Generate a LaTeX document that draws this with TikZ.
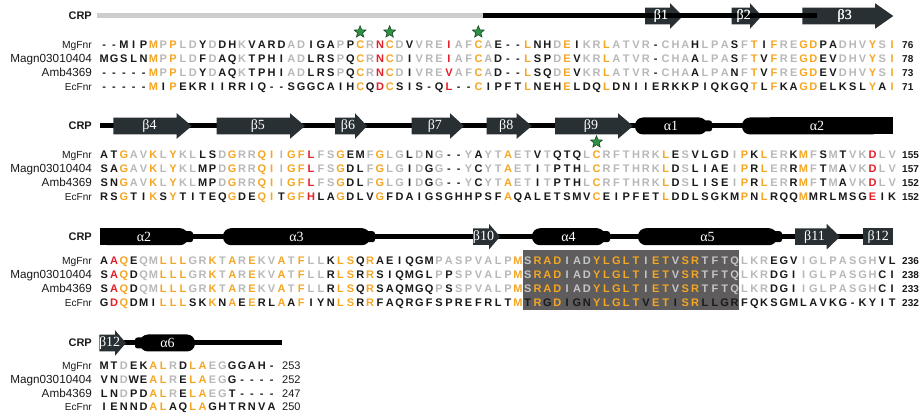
\documentclass[tikz,border=0pt]{standalone}
\usepackage{fontspec}
\setmainfont{Liberation Sans}
\newfontfamily\serifgr{Liberation Serif}
\usetikzlibrary{shapes.geometric}
\definecolor{alno}{HTML}{F5A623}
\definecolor{alng}{HTML}{B8B8B8}
\definecolor{alnk}{HTML}{1A1A1A}
\definecolor{alnr}{HTML}{E2202A}
\definecolor{alnb}{HTML}{C6C6C6}
\definecolor{boxgr}{HTML}{5E5C5C}
\definecolor{strandc}{HTML}{283033}
\definecolor{stargreen}{HTML}{2C9444}
\definecolor{stardark}{HTML}{1A4526}
\definecolor{crpgray}{HTML}{CDCDCD}

\ExplSyntaxOn
\str_new:N \g_aln_a_str
\str_new:N \g_aln_b_str
\str_new:N \g_aln_c_str
\str_new:N \g_aln_d_str
\prop_new:N \g_aln_ovr_prop
\tl_new:N \l_aln_code_tl
\tl_new:N \l_aln_a_tl
\tl_new:N \l_aln_b_tl
\tl_new:N \l_aln_c_tl
\tl_new:N \l_aln_d_tl
\tl_new:N \l_aln_ch_tl
\int_new:N \g_aln_boxlo_int
\int_new:N \g_aln_boxhi_int
\dim_new:N \g_aln_cw_dim
\dim_gset:Nn \g_aln_cw_dim {9.85pt}
\cs_new_protected:Npn \aln_put:nn #1#2 { \prop_gput:Nnn \g_aln_ovr_prop {#1} {#2} }
\NewDocumentCommand \AlnSet { m m m m m }
 {
  \str_gset:Nn \g_aln_a_str {#1}
  \str_gset:Nn \g_aln_b_str {#2}
  \str_gset:Nn \g_aln_c_str {#3}
  \str_gset:Nn \g_aln_d_str {#4}
  \prop_gclear:N \g_aln_ovr_prop
  \keyval_parse:NNn \use_none:n \aln_put:nn {#5}
 }
\NewDocumentCommand \AlnBox { m m }
 {
  \int_gset:Nn \g_aln_boxlo_int {#1}
  \int_gset:Nn \g_aln_boxhi_int {#2}
 }
\NewDocumentCommand \AlnRow { m }
 {
  \int_step_inline:nn { \str_count:N \g_aln_a_str } { \aln_cell:nn {#1} {##1} }
 }
\cs_new_protected:Npn \aln_cell:nn #1#2
 {
  \tl_set:Nx \l_aln_a_tl { \str_item:Nn \g_aln_a_str {#2} }
  \tl_set:Nx \l_aln_b_tl { \str_item:Nn \g_aln_b_str {#2} }
  \tl_set:Nx \l_aln_c_tl { \str_item:Nn \g_aln_c_str {#2} }
  \tl_set:Nx \l_aln_d_tl { \str_item:Nn \g_aln_d_str {#2} }
  \int_case:nn {#1}
   {
    {1} { \tl_set_eq:NN \l_aln_ch_tl \l_aln_a_tl }
    {2} { \tl_set_eq:NN \l_aln_ch_tl \l_aln_b_tl }
    {3} { \tl_set_eq:NN \l_aln_ch_tl \l_aln_c_tl }
    {4} { \tl_set_eq:NN \l_aln_ch_tl \l_aln_d_tl }
   }
  \prop_get:NnNF \g_aln_ovr_prop { r#1c#2 } \l_aln_code_tl
   {
    \prop_get:NnNTF \g_aln_ovr_prop { c#2 } \l_aln_code_tl
     {
      \str_if_eq:eeT { \l_aln_code_tl } { g }
       { \int_compare:nNnT {#1} = {4} { \tl_set:Nn \l_aln_code_tl { k } } }
      \str_if_eq:eeT { \l_aln_code_tl } { O }
       {
        \int_compare:nNnTF {#1} = {4}
         { \tl_set:Nn \l_aln_code_tl { k } }
         { \tl_set:Nn \l_aln_code_tl { o } }
       }
     }
     {
      \bool_if:nTF
       {
        \str_if_eq_p:ee { \l_aln_a_tl } { \l_aln_b_tl } &&
        \str_if_eq_p:ee { \l_aln_a_tl } { \l_aln_c_tl } &&
        ! \str_if_eq_p:ee { \l_aln_a_tl } { - }
       }
       {
        \str_if_eq:eeTF { \l_aln_a_tl } { \l_aln_d_tl }
         { \tl_set:Nn \l_aln_code_tl { o } }
         {
          \int_compare:nNnTF {#1} = {4}
           { \tl_set:Nn \l_aln_code_tl { k } }
           { \tl_set:Nn \l_aln_code_tl { g } }
         }
       }
       { \tl_set:Nn \l_aln_code_tl { k } }
     }
   }
  \bool_if:nT
   {
    \str_if_eq_p:ee { \l_aln_code_tl } { g } &&
    \int_compare_p:nNn {#2} > { \g_aln_boxlo_int - 1 } &&
    \int_compare_p:nNn {#2} < { \g_aln_boxhi_int + 1 }
   }
   { \tl_set:Nn \l_aln_code_tl { b } }
  \makebox [ \g_aln_cw_dim ] { \exp_args:Nx \color { aln \l_aln_code_tl } \l_aln_ch_tl }
 }
\ExplSyntaxOff

\tikzset{
  seqrow/.style={inner sep=0pt, font=\bfseries\fontsize{11}{12}\selectfont},
  lbl/.style={inner sep=0pt, text=alnk},
  numtxt/.style={inner sep=0pt, text=alnk, font=\bfseries\fontsize{10}{10}\selectfont},
  crp/.style={inner sep=0pt, text=alnk, font=\bfseries\fontsize{11}{11}\selectfont},
  sslab/.style={inner sep=0pt, text=white, font=\serifgr\fontsize{14}{14}\selectfont},
  hlab/.style={inner sep=0pt, text=white, font=\serifgr\fontsize{14}{14}\selectfont},
  gstar/.style={star, star points=5, star point ratio=2.3, minimum size=12.5pt, inner sep=0pt,
    fill=stargreen, draw=stardark, line width=0.6pt},
  crpline/.style={line width=5pt, black},
}

\newcommand\alnline[7]{%
  \node[lbl, font=\fontsize{#5}{#5}\selectfont, anchor=base east] (#1-l) at (92,{#2+3.8}) {#4};
  \node[seqrow, anchor=base west] (#1) at (99.075,{#2+4}) {\AlnRow{#3}};
  \node[numtxt, anchor=base west] (#1-n) at (#6,{#2+3.8}) {#7};
}
\newcommand\strand[6]{%
  \fill[strandc] (#2,{#5-8.3}) -- (#3,{#5-8.3}) -- (#3,{#5-12.8}) -- (#4,#5) -- (#3,{#5+12.8}) -- (#3,{#5+8.3}) -- (#2,{#5+8.3}) -- cycle;
  \node[sslab] (#1) at ({(#2+#4)/2-3},#5) {#6};
}
\newcommand\helix[6]{%
  \fill[black, rounded corners=8pt] (#2,{#4-8.5}) rectangle (#3,{#4+8.5});
  \ifcase#6\or
    \fill[black, rounded corners=2.5pt] ({#3-8},{#4-5.5}) rectangle ({#3+5},{#4+5.5});
  \or
    \fill[black, rounded corners=2.5pt] ({#2-5},{#4-5.5}) rectangle ({#2+8},{#4+5.5});
  \fi
  \node[hlab] (#1) at ({(#2+#3)/2},#4) {#5};
}

\begin{document}
\begin{tikzpicture}[x=1pt, y=-1pt]
\fill[white] (0,0) rectangle (922,414);
\useasboundingbox (0,0) rectangle (922,414);

% ---------------- Block 1 ----------------
\node[crp, anchor=east] (crp1) at (92,16) {CRP};
\draw[line width=5pt, crpgray] (97,16) -- (483,16);
\strand{b1s1}{645}{670}{683}{16}{β1}
\strand{b1s2}{731.7}{750}{761.7}{16}{β2}
\strand{b1s3}{802.3}{875}{893.3}{16}{β3}
\draw[crpline] (483,16) -- (817,16);
\node[sslab] at (b1s1) {β1};
\node[sslab] at (b1s2) {β2};
\node[sslab] at (b1s3) {β3};
\node[gstar] (st1) at (360.1,32) {};
\node[gstar] (st2) at (389.65,32) {};
\node[gstar] (st3) at (478.3,32) {};
\AlnBox{0}{0}
\AlnSet{--MIPMPPLDYDDHKVARDADIGAPPCRNCDVVREIAFCAE--LNHDEIKRLATVR-CHAHLPASFTIFREGDPADHVYSI}
       {MGSLNMPPLDFDAQKTPHIADLRSPQCRNCDIVREIAFCAD--LSPDEVKRLATVR-CHAALPASFTVFREGDEVDHVYSI}
       {-----MPPLDYDAQKTPHIADLRSPQCRNCDIVREVAFCAD--LSQDEVKRLATVR-CHAALPANFTVFREGDEVDHVYSI}
       {-----MIPEKRIIRRIQ--SGGCAIHCQDCSIS-QL--CIPFTLNEHELDQLDNIIERKKPIQKGQTLFKAGDELKSLYAI}
       {c29=r, c36=r}
\alnline{b1r1}{45}{1}{MgFnr}{10.3}{902}{76}
\alnline{b1r2}{59}{2}{Magn03010404}{11.7}{902}{78}
\alnline{b1r3}{73}{3}{Amb4369}{11.7}{902}{73}
\alnline{b1r4}{87}{4}{EcFnr}{10.1}{902}{71}

% ---------------- Block 2 ----------------
\node[crp, anchor=east] (crp2) at (92,126) {CRP};
\draw[crpline] (100,126) -- (893,126);
\strand{b2s4}{113.3}{176.7}{191.7}{126}{β4}
\strand{b2s5}{216.7}{290}{305}{126}{β5}
\strand{b2s6}{335}{355}{367}{126}{β6}
\strand{b2s7}{411.7}{450}{464}{126}{β7}
\strand{b2s8}{486.7}{516.7}{531.7}{126}{β8}
\strand{b2s9}{555}{618}{633}{126}{β9}
\helix{b2h1}{635}{707}{126}{α1}{1}
\fill[black, rounded corners=8pt] (742,117.5) rectangle (880,134.5);
\fill[black] (770,117.5) rectangle (893.3,134.5);
\node[hlab] (b2h2) at (817,126) {α2};
\node[gstar] (st4) at (596.5,142) {};
\AlnSet{ATGAVKLYKLLSDGRRQIIGFLFSGEMFGLGLDNG--YAYTAETVTQTQLCRFTHRKLESVLGDIPKLERKMFSMTVKDLV}
       {SAGAVKLYKLMPDGRRQIIGFLFSGDLFGLGIDGG--YCYTAETITPTHLCRFTHRKLDSLIAEIPRLERRMFTMAVKDLV}
       {SNGAVKLYKLMPDGRRQIIGFLFSGDLFGLGIDGG--YCYTAETITPTHLCRFTHRKLDSLISEIPRLERRMFTMAVKDLV}
       {RSGTIKSYTITEQGDEQITGFHLAGDLVGFDAIGSGHHPSFAQALETSMVCEIPFETLDDLSGKMPNLRQQMMRLMSGEIK}
       {c22=r, c79=r, c48=k}
\alnline{b2r1}{154.5}{1}{MgFnr}{10.3}{902}{155}
\alnline{b2r2}{168.5}{2}{Magn03010404}{11.7}{902}{157}
\alnline{b2r3}{182.5}{3}{Amb4369}{11.7}{902}{152}
\alnline{b2r4}{196.5}{4}{EcFnr}{10.1}{902}{152}

% ---------------- Block 3 ----------------
\node[crp, anchor=east] (crp3) at (92,236.7) {CRP};
\draw[crpline] (100,236.7) -- (893,236.7);
\fill[black] (100,228.2) rectangle (160,245.2);
\helix{b3h2}{100}{188}{236.7}{α2}{1}
\helix{b3h3}{223}{370}{236.7}{α3}{1}
\strand{b3s10}{473}{489}{500}{236.7}{β10}
\helix{b3h4}{532}{605}{236.7}{α4}{1}
\helix{b3h5}{638}{777}{236.7}{α5}{1}
\strand{b3s11}{795}{826.7}{840}{236.7}{β11}
\fill[strandc] (863.3,228.4) rectangle (893.3,245);
\node[sslab] (b3s12) at (878.3,236.7) {β12};
\fill[boxgr] (522.6,250) rectangle (739.3,310);
\AlnBox{44}{65}
\AlnSet{AAQEQMLLLGRKTAREKVATFLLKLSQRAEIQGMPASPVALPMSRADIADYLGLTIETVSRTFTQLKREGVIGLPASGHVL}
       {SAQDQMLLLGRKTAREKVATFLLRLSRRSIQMGLPPSPVALPMSRADIADYLGLTIETVSRTFTQLKRDGIIGLPASGHCI}
       {SAQDQMLLLGRKTAREKVATFLLRLSQRSAQMGQPSSPVALPMSRADIADYLGLTIETVSRTFTQLKRDGIIGLPASGHCI}
       {GDQDMILLLSKKNAEERLAAFIYNLSRRFAQRGFSPREFRLTMTRGDIGNYLGLTVETISRLLGRFQKSGMLAVKG-KYIT}
       {c2=r, c33=k, c41=g, c70=k, c46=O, c48=g, r1c36=g}
\alnline{b3r1}{260.5}{1}{MgFnr}{10.3}{902}{236}
\alnline{b3r2}{274.5}{2}{Magn03010404}{11.7}{902}{238}
\alnline{b3r3}{288.5}{3}{Amb4369}{11.7}{902}{233}
\alnline{b3r4}{302.5}{4}{EcFnr}{10.1}{902}{232}

% ---------------- Block 4 ----------------
\node[crp, anchor=east] (crp4) at (92,343) {CRP};
\draw[crpline] (100,343) -- (281.7,343);
\strand{b4s12}{99.3}{115}{126}{343}{β12}
\helix{b4h6}{140}{195}{343}{α6}{2}
\AlnBox{0}{0}
\tikzset{numtxt/.style={inner sep=0pt, text=alnk, font=\fontsize{11}{11}\selectfont}}
\AlnSet{MTDEKALRDLAEGGGAH-}
       {VNDWEALRELAEGG----}
       {LNDPDALRELAEGT----}
       {IENNDALAQLAGHTRNVA}
       {}
\alnline{b4r1}{366}{1}{MgFnr}{10.3}{282}{253}
\alnline{b4r2}{379.6}{2}{Magn03010404}{11.7}{282}{252}
\alnline{b4r3}{393.2}{3}{Amb4369}{11.7}{282}{247}
\alnline{b4r4}{406.8}{4}{EcFnr}{10.1}{282}{250}
\end{tikzpicture}
\end{document}
